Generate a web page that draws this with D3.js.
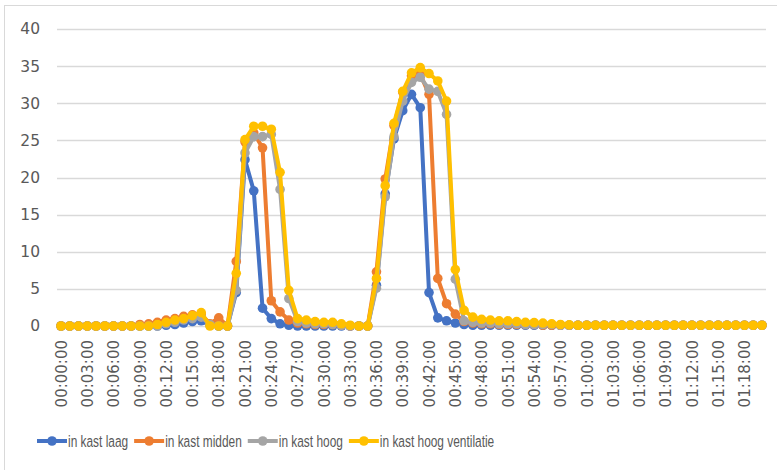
<!DOCTYPE html>
<html>
<head>
<meta charset="utf-8">
<script src="https://cdn.jsdelivr.net/npm/d3@7"></script>
<style>
  body { margin: 0; background: #fff; }
  svg { display: block; }
</style>
</head>
<body>
<svg id="chart" width="777" height="470"></svg>
<script>
// time labels, one per minute 00:00:00 .. 01:20:00
var minutes = d3.range(0, 81);
var timeLabels = minutes.map(function (m) {
  var h = Math.floor(m / 60), mm = m % 60;
  return "0" + h + ":" + (mm < 10 ? "0" : "") + mm + ":00";
});

var seriesNames = ["in kast laag", "in kast midden", "in kast hoog", "in kast hoog ventilatie"];
var seriesColors = ["#4472C4", "#ED7D31", "#A5A5A5", "#FFC000"];

var yTicks = [0, 5, 10, 15, 20, 25, 30, 35, 40];

// values
var kastLaag = [0, 0, 0, 0, 0, 0, 0, 0, 0, 0,
  0, 0, 0.1, 0.2, 0.4, 0.6, 0.7, 0.1, 0, 0,
  4.5, 22.4, 18.2, 2.4, 1.0, 0.3, 0.1, 0, 0, 0,
  0, 0, 0, 0, 0, 0, 5.5, 17.8, 25.2, 29.0,
  31.2, 29.4, 4.5, 1.1, 0.7, 0.4, 0.2, 0.1, 0.1, 0.1,
  0.1, 0.1, 0.1, 0.1, 0.1, 0.1, 0.1, 0.1, 0.1, 0.1,
  0.1, 0.1, 0.1, 0.1, 0.1, 0.1, 0.1, 0.1, 0.1, 0.1,
  0.1, 0.1, 0.1, 0.1, 0.1, 0.1, 0.1, 0.1, 0.1, 0.1, 0.1];

var kastMidden = [0, 0, 0, 0, 0, 0, 0, 0, 0, 0.2,
  0.3, 0.5, 0.8, 1.0, 1.3, 1.5, 1.6, 0.3, 1.1, 0,
  8.7, 24.8, 26.0, 24.0, 3.4, 1.9, 0.8, 0.4, 0.3, 0.2,
  0.2, 0.2, 0.1, 0, 0, 0, 7.3, 19.8, 27.0, 31.5,
  33.7, 33.9, 31.2, 6.4, 3.0, 1.6, 0.6, 0.4, 0.3, 0.3,
  0.2, 0.2, 0.2, 0.2, 0.2, 0.1, 0.1, 0.1, 0.1, 0.1,
  0.1, 0.1, 0.1, 0.1, 0.1, 0.1, 0.1, 0.1, 0.1, 0.1,
  0.1, 0.1, 0.1, 0.1, 0.1, 0.1, 0.1, 0.1, 0.1, 0.1, 0.1];

var kastHoog = [0, 0, 0, 0, 0, 0, 0, 0, 0, 0,
  0, 0, 0.3, 0.5, 0.8, 1.0, 1.2, 0.2, 0, 0,
  4.8, 23.3, 25.5, 25.5, 25.8, 18.4, 3.7, 0.6, 0.4, 0.3,
  0.3, 0.2, 0.1, 0, 0, 0, 5.1, 17.4, 25.5, 30.3,
  32.8, 33.5, 31.9, 31.6, 28.5, 6.3, 0.7, 0.5, 0.4, 0.4,
  0.3, 0.3, 0.3, 0.2, 0.2, 0.2, 0.2, 0.1, 0.1, 0.1,
  0.1, 0.1, 0.1, 0.1, 0.1, 0.1, 0.1, 0.1, 0.1, 0.1,
  0.1, 0.1, 0.1, 0.1, 0.1, 0.1, 0.1, 0.1, 0.1, 0.1, 0.1];

var kastHoogVentilatie = [0, 0, 0, 0, 0, 0, 0, 0, 0, 0,
  0, 0.2, 0.5, 0.8, 1.0, 1.4, 1.8, 0, 0, 0,
  7.1, 25.1, 26.9, 26.9, 26.5, 20.7, 4.8, 1.0, 0.8, 0.6,
  0.5, 0.5, 0.3, 0.1, 0, 0, 6.4, 18.9, 27.3, 31.6,
  34.1, 34.8, 34.0, 33.0, 30.3, 7.6, 2.1, 1.2, 0.9, 0.8,
  0.7, 0.7, 0.6, 0.5, 0.45, 0.4, 0.3, 0.2, 0.15, 0.1,
  0.1, 0.1, 0.1, 0.1, 0.1, 0.1, 0.1, 0.1, 0.1, 0.1,
  0.1, 0.1, 0.1, 0.1, 0.1, 0.1, 0.1, 0.1, 0.1, 0.1, 0.1];

var allSeries = [kastLaag, kastMidden, kastHoog, kastHoogVentilatie];

var svg = d3.select("#chart");
var textColor = "#595959";
var gridColor = "#d9d9d9";

// outer frame
svg.append("rect")
  .attr("x", 4.5).attr("y", 5.5)
  .attr("width", 800).attr("height", 500)
  .attr("fill", "none")
  .attr("stroke", gridColor);

var x = d3.scalePoint()
  .domain(minutes)
  .range([61, 762]);

var y = d3.scaleLinear()
  .domain([0, 40])
  .range([326, 29]);

// gridlines
svg.append("g")
  .selectAll("line")
  .data(yTicks)
  .enter()
  .append("line")
  .attr("x1", 57).attr("x2", 766)
  .attr("y1", function (d) { return Math.round(y(d)) + 0.5; })
  .attr("y2", function (d) { return Math.round(y(d)) + 0.5; })
  .attr("stroke", gridColor)
  .attr("stroke-width", 1.3);

// y axis labels
var yAxis = d3.axisLeft(y).tickValues(yTicks).tickSize(0).tickPadding(0);
var gy = svg.append("g").attr("transform", "translate(40,0)").call(yAxis);
gy.select(".domain").remove();
gy.selectAll("text")
  .attr("fill", textColor)
  .style("font-family", "'DejaVu Sans', sans-serif")
  .style("font-size", "15.5px");

// x axis labels, every third minute, rotated
var xAxis = d3.axisBottom(x)
  .tickValues(minutes.filter(function (m) { return m % 3 === 0; }))
  .tickFormat(function (m) { return timeLabels[m]; })
  .tickSize(0);
var gx = svg.append("g").attr("transform", "translate(0,340)").call(xAxis);
gx.select(".domain").remove();
gx.selectAll("text")
  .attr("fill", textColor)
  .style("font-family", "'DejaVu Sans', sans-serif")
  .style("font-size", "15px")
  .attr("text-anchor", "end")
  .attr("dy", "0.35em")
  .attr("y", 0)
  .attr("transform", "rotate(-90)");

// series lines and markers
var line = d3.line()
  .x(function (d, i) { return x(i); })
  .y(function (d) { return y(d); });

allSeries.forEach(function (values, s) {
  var g = svg.append("g");
  g.append("path")
    .attr("d", line(values))
    .attr("fill", "none")
    .attr("stroke", seriesColors[s])
    .attr("stroke-width", 4)
    .attr("stroke-linejoin", "round");
  g.selectAll("circle")
    .data(values)
    .enter()
    .append("circle")
    .attr("cx", function (d, i) { return x(i); })
    .attr("cy", function (d) { return y(d); })
    .attr("r", 4.8)
    .attr("fill", seriesColors[s]);
});

// legend - text squeezed horizontally to look like the narrow office font
var legend = svg.append("g").attr("transform", "translate(37,441)");
var squeeze = 0.70;
var lx = 0;
seriesNames.forEach(function (name, s) {
  var item = legend.append("g").attr("transform", "translate(" + lx + ",0)");
  item.append("line")
    .attr("x1", 0).attr("x2", 30)
    .attr("stroke", seriesColors[s])
    .attr("stroke-width", 4);
  item.append("circle")
    .attr("cx", 15).attr("r", 4.8)
    .attr("fill", seriesColors[s]);
  var t = item.append("text")
    .attr("transform", "translate(31,0) scale(" + squeeze + ",1)")
    .attr("dy", "0.35em")
    .attr("fill", textColor)
    .style("font-family", "'Liberation Sans', Arial, sans-serif")
    .style("font-size", "17px")
    .text(name);
  lx += 31 + t.node().getComputedTextLength() * squeeze + 6;
});
</script>
</body>
</html>
